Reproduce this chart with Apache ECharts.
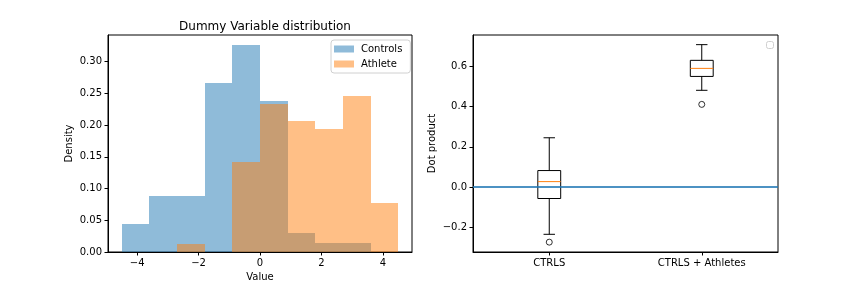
<!DOCTYPE html>
<html>
<head>
<meta charset="utf-8">
<script src="https://cdn.jsdelivr.net/npm/echarts@6/dist/echarts.min.js"></script>
<style>html,body{margin:0;padding:0;background:#fff;}#main{width:864px;height:288px;}</style>
</head>
<body>
<div id="main"></div>
<script>
// ---- data ----
const binEdges = [-4.5, -3.6, -2.7, -1.8, -0.9, 0, 0.9, 1.8, 2.7, 3.6, 4.5];
const controlsDensity = [0.0441, 0.0883, 0.0883, 0.2664, 0.3263, 0.238, 0.030, 0.0142, 0.0142, 0];
const athleteDensity = [0, 0, 0.0131, 0, 0.1424, 0.2338, 0.207, 0.1939, 0.2459, 0.0772];
const histXTicks = [-4, -2, 0, 2, 4];
const histYTicks = [0, 0.05, 0.10, 0.15, 0.20, 0.25, 0.30];

const boxCategories = ['CTRLS', 'CTRLS + Athletes'];
// [lower whisker, Q1, median, Q3, upper whisker]
const ctrlsBox = [-0.235, -0.057, 0.027, 0.082, 0.245];
const athletesBox = [0.481, 0.550, 0.590, 0.630, 0.708];
const outliers = [[0, -0.274], [1, 0.411]];
const boxYTicks = [-0.2, 0, 0.2, 0.4, 0.6];

// ---- helpers ----
function histData(d) {
  const out = [];
  for (let i = 0; i < d.length; i++) if (d[i] > 0) out.push([binEdges[i], binEdges[i + 1], d[i]]);
  return out;
}
function fmtMinus(s) { return s.replace('-', '\u2212'); }

function renderHist(params, api) {
  const x0 = api.value(0), x1 = api.value(1), h = api.value(2);
  const p0 = api.coord([x0, h]);
  const p1 = api.coord([x1, 0]);
  const l = Math.round(p0[0]), r = Math.round(p1[0]);
  const t = Math.round(p0[1]), b = Math.round(p1[1]);
  return {
    type: 'rect',
    shape: { x: l, y: t, width: r - l, height: b - t },
    style: { fill: api.visual('color') }
  };
}

function renderBox(params, api) {
  const cat = api.value(0);
  const lo = api.value(1), q1 = api.value(2), med = api.value(3), q3 = api.value(4), hi = api.value(5);
  const band = api.size([1, 0])[0];
  const hw = band * 0.15 / 2;
  const cw = hw / 2;
  const cx = api.coord([cat, med])[0];
  const y = v => api.coord([cat, v])[1];
  const ls = { stroke: '#000', lineWidth: 1 };
  return {
    type: 'group',
    children: [
      { type: 'line', shape: { x1: cx, y1: y(q1), x2: cx, y2: y(lo) }, style: ls },
      { type: 'line', shape: { x1: cx, y1: y(q3), x2: cx, y2: y(hi) }, style: ls },
      { type: 'line', shape: { x1: cx - cw, y1: y(lo), x2: cx + cw, y2: y(lo) }, style: ls },
      { type: 'line', shape: { x1: cx - cw, y1: y(hi), x2: cx + cw, y2: y(hi) }, style: ls },
      { type: 'rect', shape: { x: cx - hw, y: y(q3), width: 2 * hw, height: y(q1) - y(q3) }, style: { stroke: '#000', fill: 'none', lineWidth: 1 } },
      { type: 'line', shape: { x1: cx - hw, y1: y(med), x2: cx + hw, y2: y(med) }, style: { stroke: '#ff7f0e', lineWidth: 1 } }
    ]
  };
}

const font = 'DejaVu Sans';
const labelStyle = { color: '#000', fontSize: 10, fontFamily: font };
const tick = { show: true, inside: false, length: 3.5, lineStyle: { color: '#000', width: 1 } };
const axLine = { show: true, onZero: false, lineStyle: { color: '#000', width: 1 } };

const chart = echarts.init(document.getElementById('main'), null, { renderer: 'canvas' });
chart.setOption({
  animation: false,
  backgroundColor: '#fff',
  title: {
    text: 'Dummy Variable distribution',
    left: 260, top: 16, textAlign: 'center',
    textStyle: { fontSize: 12, fontWeight: 'normal', color: '#000', fontFamily: font }
  },
  legend: {
    data: ['Controls', 'Athlete'],
    orient: 'vertical',
    left: 331, top: 40,
    icon: 'rect', itemWidth: 20, itemHeight: 7, itemGap: 3,
    padding: [3, 8, 3, 3],
    backgroundColor: '#fff', borderColor: '#d0d0d0', borderWidth: 1, borderRadius: 3,
    textStyle: { fontSize: 10, color: '#000', fontFamily: font, lineHeight: 12, padding: [0, 0, 0, 2] }
  },
  graphic: [{
    type: 'rect', left: 766, top: 41, shape: { width: 7, height: 7, r: 2 },
    style: { fill: '#fff', stroke: '#d0d0d0', lineWidth: 1 }
  }],
  grid: [
    { left: 108, top: 35, width: 304, height: 217, show: true, borderColor: '#000', borderWidth: 1, backgroundColor: 'transparent' },
    { left: 473, top: 35, width: 305, height: 217, show: true, borderColor: '#000', borderWidth: 1, backgroundColor: 'transparent' }
  ],
  xAxis: [
    {
      type: 'value', gridIndex: 0, min: -4.95, max: 4.95,
      name: 'Value', nameLocation: 'middle', nameGap: 20,
      nameTextStyle: { fontSize: 10, color: '#000', fontFamily: font },
      axisLine: axLine, axisTick: Object.assign({}, tick, { customValues: histXTicks }),
      axisLabel: Object.assign({}, labelStyle, { margin: 6, customValues: histXTicks, formatter: v => fmtMinus(String(v)) }),
      splitLine: { show: false }
    },
    {
      type: 'category', gridIndex: 1, data: boxCategories, boundaryGap: true,
      axisLine: axLine, axisTick: Object.assign({}, tick, { alignWithLabel: true }),
      axisLabel: Object.assign({}, labelStyle, { margin: 6 }),
      splitLine: { show: false }
    }
  ],
  yAxis: [
    {
      type: 'value', gridIndex: 0, min: 0, max: 0.342,
      name: 'Density', nameLocation: 'middle', nameGap: 34,
      nameTextStyle: { fontSize: 10, color: '#000', fontFamily: font },
      axisLine: axLine, axisTick: Object.assign({}, tick, { customValues: histYTicks }),
      axisLabel: Object.assign({}, labelStyle, { margin: 6, customValues: histYTicks, formatter: v => v.toFixed(2) }),
      splitLine: { show: false }
    },
    {
      type: 'value', gridIndex: 1, min: -0.323, max: 0.756,
      name: 'Dot product', nameLocation: 'middle', nameGap: 36,
      nameTextStyle: { fontSize: 10, color: '#000', fontFamily: font },
      axisLine: axLine, axisTick: Object.assign({}, tick, { customValues: boxYTicks }),
      axisLabel: Object.assign({}, labelStyle, { margin: 6, customValues: boxYTicks, formatter: v => fmtMinus(v.toFixed(1)) }),
      splitLine: { show: false }
    }
  ],
  series: [
    {
      name: 'Controls', type: 'custom', xAxisIndex: 0, yAxisIndex: 0,
      renderItem: renderHist, encode: { x: [0, 1], y: 2 },
      itemStyle: { color: 'rgba(31,119,180,0.5)' },
      data: histData(controlsDensity)
    },
    {
      name: 'Athlete', type: 'custom', xAxisIndex: 0, yAxisIndex: 0,
      renderItem: renderHist, encode: { x: [0, 1], y: 2 },
      itemStyle: { color: 'rgba(255,127,14,0.5)' },
      data: histData(athleteDensity)
    },
    {
      name: 'box', type: 'custom', xAxisIndex: 1, yAxisIndex: 1,
      renderItem: renderBox, encode: { x: 0, y: [1, 2, 3, 4, 5] },
      data: [[0].concat(ctrlsBox), [1].concat(athletesBox)], z: 2
    },
    {
      name: 'outliers', type: 'scatter', xAxisIndex: 1, yAxisIndex: 1,
      symbol: 'circle', symbolSize: 6,
      itemStyle: { color: 'rgba(0,0,0,0)', borderColor: '#000', borderWidth: 1 },
      data: outliers, z: 3,
      markLine: {
        silent: true, symbol: ['none', 'none'], animation: false,
        label: { show: false },
        lineStyle: { color: '#1f77b4', width: 2, type: 'solid', opacity: 0.8 },
        data: [{ yAxis: 0 }]
      }
    }
  ]
});
</script>
</body>
</html>
